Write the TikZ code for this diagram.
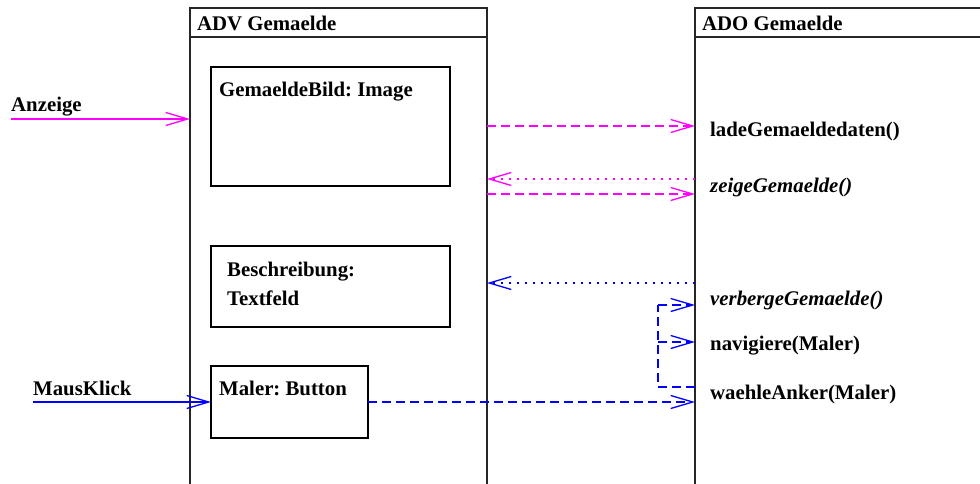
\documentclass[tikz,border=0pt]{standalone}
\usepackage{fontspec}
\setmainfont{Liberation Serif}
\usetikzlibrary{arrows.meta}
\definecolor{msgmag}{RGB}{255,0,255}
\definecolor{msgblue}{RGB}{0,0,255}
\frenchspacing
\begin{document}
\begin{tikzpicture}[x=1pt,y=-1pt,
  lbl/.style={anchor=base west,inner sep=0pt,font=\fontsize{20.8}{24}\selectfont\bfseries},
  ilbl/.style={anchor=base west,inner sep=0pt,font=\fontsize{20.8}{24}\selectfont\bfseries\itshape},
  frame/.style={draw=black!85,line width=1.3pt},
  part/.style={draw=black,line width=1.2pt},
  msg/.style={line width=1.3pt,-{Straight Barb[length=22pt,width=13pt,line width=1.3pt]}},
  dsh/.style={dash pattern=on 9pt off 5pt},
  dot/.style={dash pattern=on 2pt off 6pt}]
\useasboundingbox (0,0) rectangle (980,483);
\begin{scope}
\clip (0,0) rectangle (980,483);
% component frames (open at the bottom)
\draw[frame] (190,495) -- (190,8) -- (487,8) -- (487,495);
\draw[frame] (190,37) -- (487,37);
\draw[frame] (695,495) -- (695,8) -- (990,8);
\draw[frame] (695,37) -- (990,37);
\end{scope}
\coordinate (advL1) at (190,119);
\coordinate (advR1) at (487,126);
\coordinate (advR2) at (487,179);
\coordinate (advR3) at (487,194);
\coordinate (advR4) at (487,283);
\coordinate (adoL1) at (695,126);
\coordinate (adoL2) at (695,179);
\coordinate (adoL3) at (695,194);
\coordinate (adoL4) at (695,283);
\coordinate (adoL5) at (695,305);
\coordinate (adoL6) at (695,342);
\coordinate (adoL7) at (695,387);
\coordinate (adoL8) at (695,402);
\coordinate (jTop) at (658,305);
\coordinate (jMid) at (658,342);
\coordinate (jBot) at (658,387);
\coordinate (anzStart) at (11,119);
\coordinate (mkStart) at (33,402);
\coordinate (malR) at (368,402);
\coordinate (malL) at (211,402);

\node[lbl] (advT) at (197,30) {ADV Gemaelde};
\node[lbl] (adoT) at (702,30) {ADO Gemaelde};

% parts inside ADV
\draw[part] (211,67) rectangle (450,186);
\node[lbl] (bildT) at (219,96) {GemaeldeBild: Image};
\draw[part] (211,246) rectangle (450,327);
\node[lbl] (beschT) at (227,276) {Beschreibung:};
\node[lbl] (textT) at (227,305) {Textfeld};
\draw[part] (211,366) rectangle (368,438);
\node[lbl] (malT) at (219,395) {Maler: Button};

% events
\node[lbl] (anz) at (11,111) {Anzeige};
\draw[msg,msgmag] (anzStart) -- (advL1);
\node[lbl] (mk) at (33,395) {MausKlick};
\draw[msg,msgblue] (mkStart) -- (malL);

% operations of ADO
\node[lbl] (op1) at (710,136) {ladeGemaeldedaten()};
\node[ilbl] (op2) at (710,192) {zeigeGemaelde()};
\node[ilbl] (op3) at (710,305) {verbergeGemaelde()};
\node[lbl] (op4) at (710,350) {navigiere(Maler)};
\node[lbl] (op5) at (710,399) {waehleAnker(Maler)};

% messages
\draw[msg,msgmag,dsh] (advR1) -- (adoL1);
\draw[msg,msgmag,dot] (adoL2) -- (advR2);
\draw[msg,msgmag,dsh] (advR3) -- (adoL3);
\draw[msg,msgblue,dot] (adoL4) -- (advR4);
\draw[line width=1.3pt,msgblue,dsh] (adoL7) -- (jBot) -- (jTop);
\draw[msg,msgblue,dsh] (jTop) -- (adoL5);
\draw[msg,msgblue,dsh] (jMid) -- (adoL6);
\draw[msg,msgblue,dsh] (malR) -- (adoL8);
\end{tikzpicture}
\end{document}
